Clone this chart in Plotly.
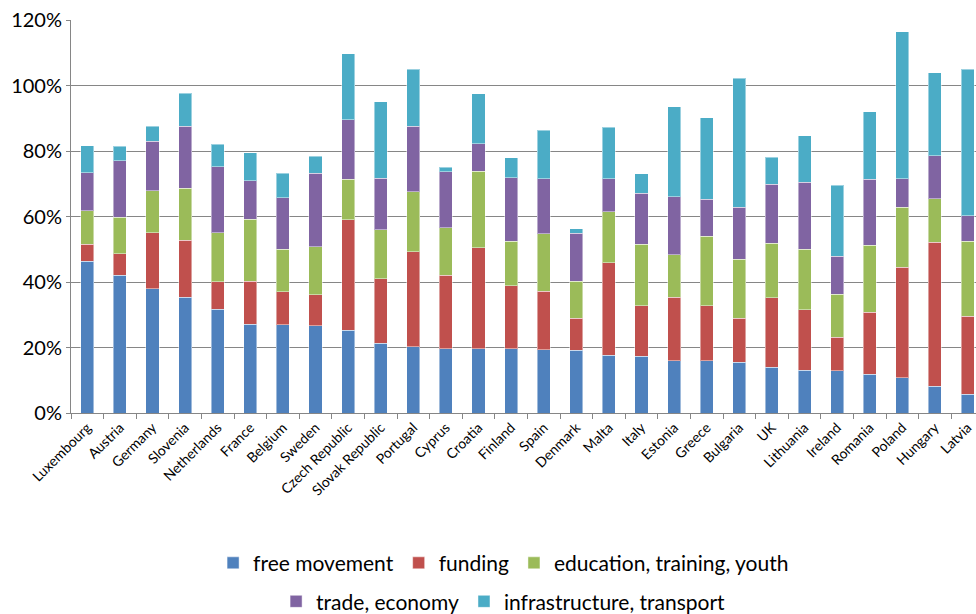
import plotly.graph_objects as go

countries = ["Luxembourg", "Austria", "Germany", "Slovenia", "Netherlands", "France", "Belgium",
             "Sweden", "Czech Republic", "Slovak Republic", "Portugal", "Cyprus", "Croatia",
             "Finland", "Spain", "Denmark", "Malta", "Italy", "Estonia", "Greece", "Bulgaria",
             "UK", "Lithuania", "Ireland", "Romania", "Poland", "Hungary", "Latvia"]

free_movement = [46.4, 42.0, 38.0, 35.4, 31.7, 27.1, 27.0, 26.6, 25.2, 21.3, 20.2, 19.6, 19.6,
                 19.6, 19.3, 19.2, 17.7, 17.3, 16.0, 16.0, 15.5, 14.0, 13.1, 12.9, 11.9, 10.7, 8.2, 5.8]
funding = [5.1, 6.7, 17.1, 17.3, 8.4, 13.2, 10.1, 9.5, 33.8, 19.7, 29.1, 22.4, 30.8,
           19.3, 17.9, 9.7, 28.2, 15.5, 19.3, 16.8, 13.5, 21.2, 18.5, 10.2, 18.8, 33.8, 43.9, 23.7]
education = [10.2, 11.0, 12.7, 16.0, 14.9, 18.9, 12.9, 14.7, 12.4, 15.0, 18.2, 14.5, 23.4,
             13.5, 17.5, 11.3, 15.6, 18.7, 13.0, 21.1, 18.0, 16.7, 18.4, 13.1, 20.5, 18.3, 13.3, 22.9]
trade = [11.6, 17.3, 15.2, 18.9, 20.2, 11.7, 15.7, 22.4, 18.2, 15.7, 20.0, 17.2, 8.4,
         19.4, 16.9, 14.7, 10.0, 15.6, 17.7, 11.3, 15.8, 17.9, 20.4, 11.6, 20.1, 8.8, 13.2, 7.9]
infrastructure = [8.3, 4.4, 4.6, 10.1, 6.8, 8.6, 7.5, 5.2, 20.1, 23.3, 17.4, 1.3, 15.3,
                  6.2, 14.8, 1.4, 15.7, 5.9, 27.5, 25.0, 39.4, 8.3, 14.2, 21.7, 20.7, 44.8, 25.3, 44.6]

series = [
    ("free movement", free_movement, "#4F81BD", "legend"),
    ("funding", funding, "#C0504D", "legend"),
    ("education, training, youth", education, "#9BBB59", "legend"),
    ("trade, economy", trade, "#8064A2", "legend2"),
    ("infrastructure, transport", infrastructure, "#4BACC6", "legend2"),
]

fig = go.Figure()
for name, vals, color, lg in series:
    fig.add_trace(go.Bar(
        x=countries, y=vals, name=name, legend=lg,
        marker=dict(color=color, line=dict(color="rgba(255,255,255,0.45)", width=1)),
    ))

font_family = "Lato, 'Open Sans', sans-serif"
fig.update_layout(
    width=976, height=614,
    barmode="stack", bargap=0.6,
    plot_bgcolor="white", paper_bgcolor="white",
    margin=dict(l=71, r=0, t=20, b=201, autoexpand=False),
    font=dict(family=font_family, color="#000000"),
    legend=dict(orientation="h", x=0.478, xanchor="center", y=-0.33, yanchor="top",
                font=dict(size=21, family=font_family), traceorder="normal",
                itemwidth=30),
    legend2=dict(orientation="h", x=0.478, xanchor="center", y=-0.428, yanchor="top",
                 font=dict(size=21, family=font_family), traceorder="normal",
                 itemwidth=30),
)
fig.update_xaxes(
    type="category", range=[-0.5, 27.26], automargin=False,
    tickangle=-45, tickfont=dict(size=14, family=font_family),
    showline=True, linecolor="#868686", linewidth=1,
    ticks="outside", tickson="boundaries", ticklen=5, tickcolor="#868686",
    showgrid=False,
)
fig.update_yaxes(
    range=[0, 120], dtick=20, ticksuffix="%", automargin=False,
    tickfont=dict(size=20, family=font_family),
    showline=True, linecolor="#868686", linewidth=1,
    ticks="outside", ticklen=4, tickcolor="#868686",
    showgrid=True, gridcolor="#868686", gridwidth=1,
    zeroline=False,
)

fig.write_html(
    "out.html",
    config={"displayModeBar": False},
    post_script="document.body.style.margin='0';document.body.style.overflow='hidden';",
)
